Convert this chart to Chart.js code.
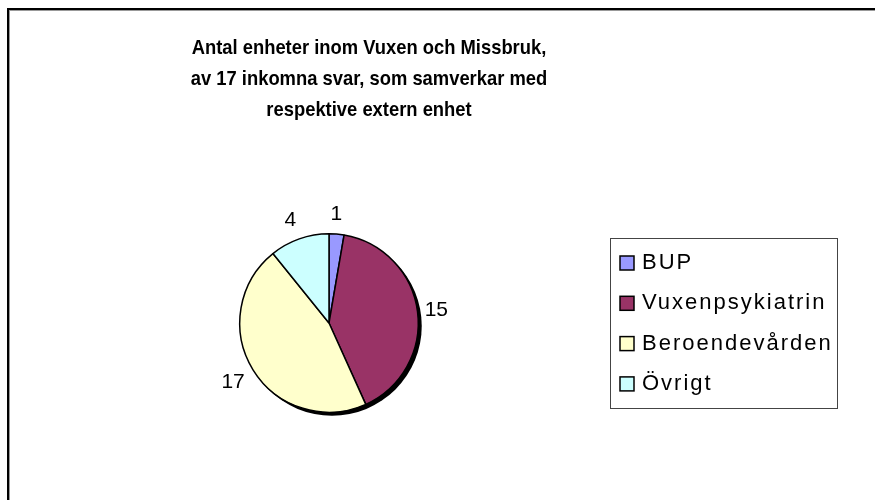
<!DOCTYPE html>
<html>
<head>
<meta charset="utf-8">
<script src="https://cdn.jsdelivr.net/npm/chart.js@4/dist/chart.umd.min.js"></script>
<style>
  html, body { margin: 0; padding: 0; background: #fff; }
  #wrap { position: relative; width: 875px; height: 500px; }
</style>
</head>
<body>
<div id="wrap"><canvas id="c" width="875" height="500"></canvas></div>
<script>
const titleLines = [
  "Antal enheter inom Vuxen och Missbruk,",
  "av 17 inkomna svar, som samverkar med",
  "respektive extern enhet"
];
const categories = ["BUP", "Vuxenpsykiatrin", "Beroendevården", "Övrigt"];
const values = [1, 15, 17, 4];
const colors = ["#9999FF", "#993366", "#FFFFCC", "#CCFFFF"];

const framePlugin = {
  id: 'frame',
  beforeDraw(chart) {
    const ctx = chart.ctx;
    ctx.save();
    ctx.fillStyle = '#fff';
    ctx.fillRect(0, 0, chart.width, chart.height);
    ctx.fillStyle = '#000';
    ctx.fillRect(7, 8, chart.width, 2);
    ctx.fillRect(7, 8, 2, chart.height);
    ctx.fillStyle = '#999';
    ctx.fillRect(9, 10, chart.width, 1);
    ctx.fillRect(9, 10, 1, chart.height);
    // title (slightly condensed, as in the reference)
    ctx.fillStyle = '#000';
    ctx.font = 'bold 21px "Liberation Sans", Arial, sans-serif';
    ctx.textAlign = 'center';
    ctx.textBaseline = 'middle';
    titleLines.forEach((t, i) => {
      ctx.save();
      ctx.translate(369, 48 + i * 31);
      ctx.scale(0.875, 1);
      ctx.fillText(t, 0, 0);
      ctx.restore();
    });
    ctx.restore();
  }
};

const shadowPlugin = {
  id: 'shadow',
  beforeDatasetsDraw(chart) {
    const arc = chart.getDatasetMeta(0).data[0];
    if (!arc) return;
    const ctx = chart.ctx;
    ctx.save();
    ctx.fillStyle = '#000';
    ctx.beginPath();
    ctx.arc(arc.x + 3, arc.y + 3, arc.outerRadius + 0.5, 0, Math.PI * 2);
    ctx.fill();
    ctx.restore();
  }
};

const labelPlugin = {
  id: 'vlabels',
  afterDatasetsDraw(chart) {
    const meta = chart.getDatasetMeta(0);
    const ctx = chart.ctx;
    ctx.save();
    ctx.fillStyle = '#000';
    ctx.font = '21px "Liberation Sans", Arial, sans-serif';
    ctx.textAlign = 'center';
    ctx.textBaseline = 'middle';
    meta.data.forEach((arc, i) => {
      const a = (arc.startAngle + arc.endAngle) / 2;
      const d = arc.outerRadius + 21;
      ctx.fillText(String(values[i]), arc.x - 2 + d * Math.cos(a), arc.y + 1 + d * Math.sin(a));
    });
    ctx.restore();
  }
};

const legendPlugin = {
  id: 'boxlegend',
  afterDraw(chart) {
    const ctx = chart.ctx;
    ctx.save();
    ctx.strokeStyle = '#444';
    ctx.lineWidth = 1;
    ctx.strokeRect(610.5, 238.5, 227, 170);
    ctx.font = '22px "Liberation Sans", Arial, sans-serif';
    ctx.textBaseline = 'middle';
    ctx.textAlign = 'left';
    try { ctx.letterSpacing = '2px'; } catch (e) {}
    categories.forEach((c, i) => {
      const y = 263 + i * 40.3;
      ctx.fillStyle = colors[i];
      ctx.fillRect(620, y - 7, 14, 14);
      ctx.strokeStyle = '#000';
      ctx.lineWidth = 1.5;
      ctx.strokeRect(620, y - 7, 14, 14);
      ctx.fillStyle = '#000';
      ctx.fillText(c, 642, y);
    });
    ctx.restore();
  }
};

new Chart(document.getElementById('c'), {
  type: 'pie',
  data: {
    labels: categories,
    datasets: [{
      data: values,
      backgroundColor: colors,
      borderColor: '#000',
      borderWidth: 1.5
    }]
  },
  options: {
    responsive: false,
    animation: false,
    layout: { padding: { left: 239, right: 456, top: 233, bottom: 87 } },
    plugins: {
      legend: { display: false },
      title: { display: false },
      tooltip: { enabled: false }
    }
  },
  plugins: [framePlugin, shadowPlugin, labelPlugin, legendPlugin]
});
</script>
</body>
</html>
